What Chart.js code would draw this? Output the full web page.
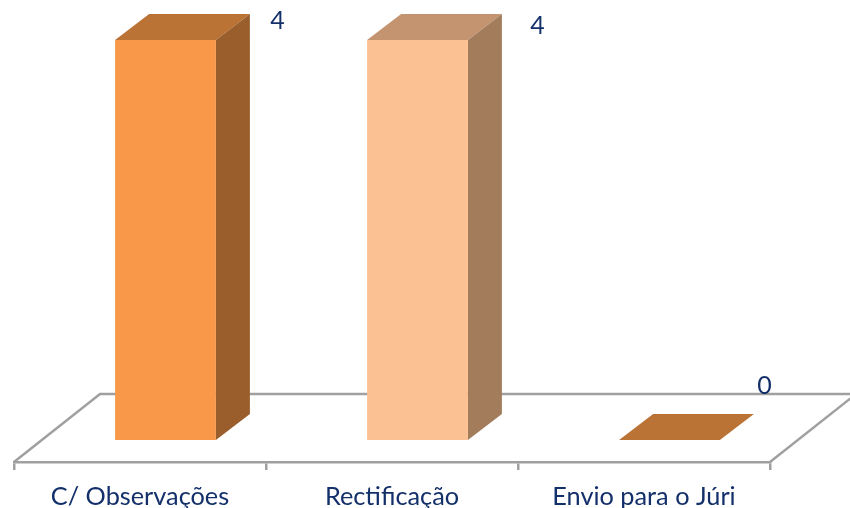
<!DOCTYPE html>
<html>
<head>
<meta charset="utf-8">
<style>
  html, body { margin: 0; padding: 0; background: #fff; }
  canvas { display: block; }
</style>
<script src="https://cdn.jsdelivr.net/npm/chart.js@4/dist/chart.umd.min.js"></script>
</head>
<body>
<canvas id="chart" width="850" height="508"></canvas>
<script>
const categories = ['C/ Observações', 'Rectificação', 'Envio para o Júri'];
const values = [4, 4, 0];

const frontColors = ['#F99848', '#FCC192', '#F99848'];
const topColors = ['#BA7335', '#C49470', '#BA7335'];
const sideColors = ['#9A5E2C', '#A27C5B', '#9A5E2C'];

const TEXT_COLOR = '#14306A';
const FLOOR_COLOR = '#A0A0A0';
const FONT = 'Lato';

// profundidad de las barras y del suelo
const BAR_DEPTH = { x: 34, y: -26 };
const FLOOR_DEPTH = { x: 86, y: -68 };
const BAR_SHIFT = 25.5;

// desplazamiento de cada etiqueta respecto al frente de su barra
const labelOffsets = [
  { x: 112, y: -19 },
  { x: 120, y: -14 },
  { x: 95, y: -54 }
];

const box3d = {
  id: 'box3d',
  beforeDatasetsDraw(chart) {
    const { ctx, chartArea } = chart;
    const b = chartArea.bottom;

    // suelo: laterales y linea del fondo
    ctx.save();
    ctx.strokeStyle = FLOOR_COLOR;
    ctx.lineWidth = 2.5;
    ctx.beginPath();
    ctx.moveTo(chartArea.left, b);
    ctx.lineTo(chartArea.left + FLOOR_DEPTH.x, b + FLOOR_DEPTH.y);
    ctx.lineTo(chart.width, b + FLOOR_DEPTH.y);
    ctx.moveTo(chartArea.right, b);
    ctx.lineTo(chartArea.right + FLOOR_DEPTH.x, b + FLOOR_DEPTH.y);
    ctx.stroke();
    ctx.restore();

    ctx.save();
    ctx.translate(BAR_SHIFT, 0);
    chart.getDatasetMeta(0).data.forEach((bar, i) => {
      const left = bar.x - bar.width / 2;
      const right = bar.x + bar.width / 2;
      const dx = BAR_DEPTH.x, dy = BAR_DEPTH.y;

      // cara superior
      ctx.fillStyle = topColors[i];
      ctx.beginPath();
      ctx.moveTo(left, bar.y);
      ctx.lineTo(left + dx, bar.y + dy);
      ctx.lineTo(right + dx, bar.y + dy);
      ctx.lineTo(right, bar.y);
      ctx.closePath();
      ctx.fill();

      // cara lateral
      if (bar.base > bar.y) {
        ctx.fillStyle = sideColors[i];
        ctx.beginPath();
        ctx.moveTo(right, bar.y);
        ctx.lineTo(right + dx, bar.y + dy);
        ctx.lineTo(right + dx, bar.base + dy);
        ctx.lineTo(right, bar.base);
        ctx.closePath();
        ctx.fill();
      }
    });
    // el translate sigue activo para las barras del dataset
  },
  afterDatasetsDraw(chart) {
    const { ctx } = chart;
    ctx.restore();

    ctx.save();
    ctx.fillStyle = TEXT_COLOR;
    ctx.font = '25px ' + FONT;
    ctx.textAlign = 'center';
    ctx.textBaseline = 'middle';
    chart.getDatasetMeta(0).data.forEach((bar, i) => {
      ctx.fillText(String(values[i]), bar.x + BAR_SHIFT + labelOffsets[i].x, bar.y + labelOffsets[i].y);
    });
    ctx.restore();
  }
};

new Chart(document.getElementById('chart').getContext('2d'), {
  type: 'bar',
  data: {
    labels: categories,
    datasets: [{
      data: values,
      backgroundColor: frontColors,
      barPercentage: 0.4,
      categoryPercentage: 1
    }]
  },
  options: {
    responsive: false,
    animation: false,
    layout: { padding: { left: 14, right: 80, top: 0, bottom: 0 } },
    plugins: { legend: { display: false }, tooltip: { enabled: false } },
    scales: {
      x: {
        // alto fijo del eje para que el suelo quede en su sitio
        afterFit: scale => { scale.height = 46; },
        grid: {
          drawOnChartArea: false,
          color: FLOOR_COLOR,
          lineWidth: 2.5,
          tickLength: 8
        },
        border: { color: FLOOR_COLOR, width: 2.5 },
        ticks: { color: TEXT_COLOR, font: { family: FONT, size: 25.3, lineHeight: 0.4 }, padding: 22, maxRotation: 0 }
      },
      y: {
        display: false,
        min: -0.22,
        max: 4.4
      }
    }
  },
  plugins: [box3d]
});
</script>
</body>
</html>
